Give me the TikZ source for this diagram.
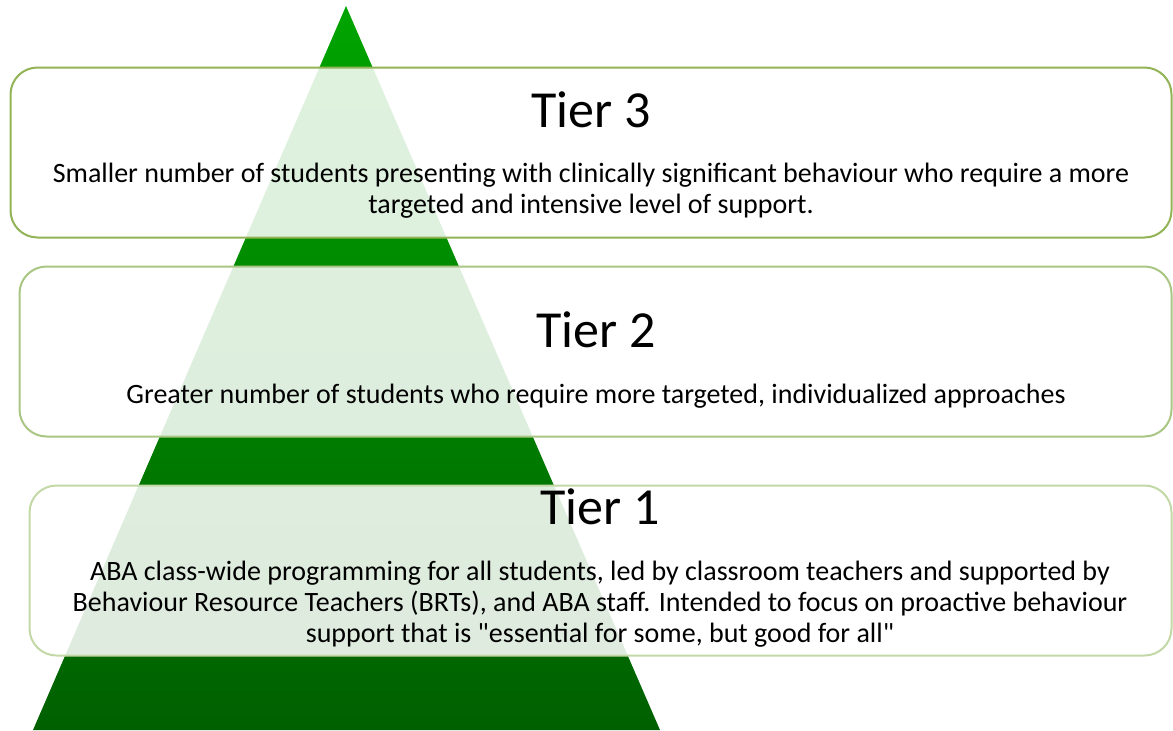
\documentclass[tikz,border=0pt]{standalone}
\usepackage{fontspec}
\setmainfont{Carlito}[Ligatures=TeXOff]
\definecolor{gtop}{HTML}{00A400}
\definecolor{gbot}{HTML}{006000}
\definecolor{bordA}{HTML}{92B356}
\definecolor{bordB}{HTML}{A9C684}
\definecolor{bordC}{HTML}{C2D8A6}
\tikzset{
  tierbox/.style={draw, line width=2pt, rounded corners=27pt, fill=white, fill opacity=0.87, inner sep=0pt, outer sep=0pt},
  title/.style={font=\fontsize{52}{60}\selectfont, anchor=base, inner sep=0pt},
  body/.style={font=\fontsize{28}{31}\selectfont, align=center, anchor=base, inner sep=0pt}
}
\begin{document}
\begin{tikzpicture}[x=1pt,y=-1pt]
\useasboundingbox (0,0) rectangle (1173,731);
\coordinate (apex) at (346,6);
\coordinate (bl) at (33,730);
\coordinate (br) at (660,730);
\shade[top color=gtop, bottom color=gbot] (apex) -- (br) -- (bl) -- cycle;
\node[tierbox, draw=bordA, minimum width=1161pt, minimum height=170pt] (b3) at (591,152.5) {};
\node[tierbox, draw=bordB, minimum width=1152pt, minimum height=170pt] (b2) at (595.5,351.5) {};
\node[tierbox, draw=bordC, minimum width=1142pt, minimum height=170pt] (b1) at (600.5,570.5) {};
\node[title] (t3) at (591,127) {Tier 3};
\node[body] (d3) at (591,213) {Smaller number of students presenting with clinically significant behaviour who require a more\\targeted and intensive level of support.};
\node[title] (t2) at (596,347) {Tier 2};
\node[body] (d2) at (596,403) {Greater number of students who require more targeted, individualized approaches};
\node[title] (t1) at (600,524) {Tier 1};
\node[body] (d1) at (600,642) {ABA class-wide programming for all students, led by classroom teachers and supported by\\Behaviour Resource Teachers (BRTs), and ABA staff. Intended to focus on proactive behaviour\\support that is "essential for some, but good for all"};
\end{tikzpicture}
\end{document}
